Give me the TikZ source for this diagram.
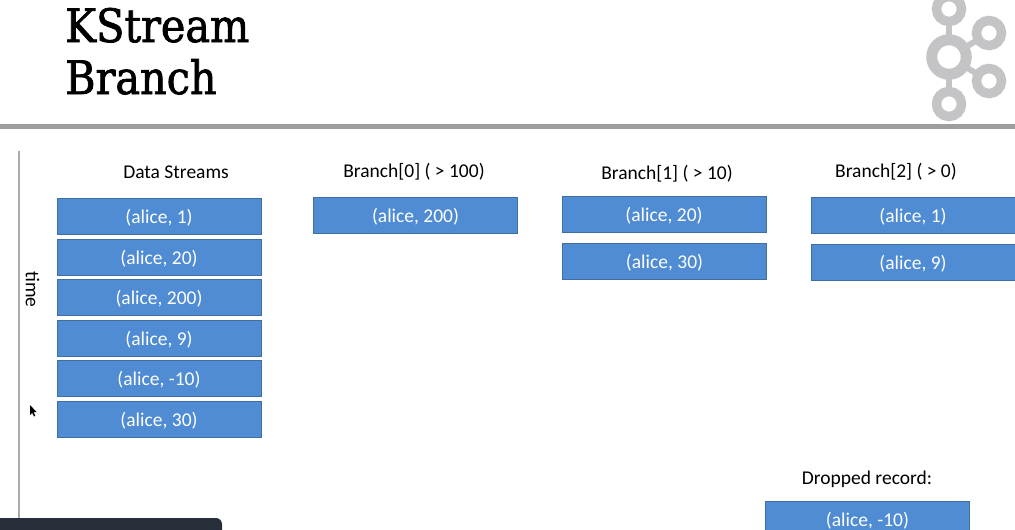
\documentclass[tikz,border=0pt]{standalone}
\usepackage{fontspec}
\setmainfont{Carlito}
\newfontfamily\titlefont[FakeBold=1.6,FakeStretch=0.9]{DejaVu Serif}
\definecolor{boxfill}{HTML}{4F8CD3}
\definecolor{boxline}{HTML}{3F6F9F}
\definecolor{rulegray}{HTML}{9E9E9E}
\definecolor{axisgray}{HTML}{ABABAB}
\definecolor{logogray}{HTML}{C4C4C6}
\definecolor{barcolor}{HTML}{272D39}
\tikzset{
  rec/.style={draw=boxline,line width=0.9pt,fill=boxfill,minimum width=204pt,minimum height=36.5pt,inner sep=0pt,text=white,text height=17pt,text depth=3.5pt,font=\fontsize{19.5}{21}\selectfont},
  head/.style={text=black,inner sep=0pt,font=\fontsize{19.5}{21}\selectfont},
  ttl/.style={text=black,inner sep=0pt,anchor=base west,font=\titlefont\fontsize{46}{50}\selectfont},
  hub/.style={circle,draw=logogray,line width=11pt,fill=white,minimum size=34.5pt,inner sep=0pt},
  sat/.style={circle,draw=logogray,line width=9.5pt,fill=white,minimum size=25pt,inner sep=0pt},
  spoke/.style={draw=logogray,line width=6pt}
}
\begin{document}
\begin{tikzpicture}[x=1pt,y=-1pt]
\useasboundingbox (0,0) rectangle (1015,530);
\begin{scope}
\clip (0,0) rectangle (1015,530);
% title
\node[ttl] (t1) at (65,42) {KStream};
\node[ttl] (t2) at (65,94) {Branch};
% logo
\coordinate (hubc) at (949,57);
\coordinate (sa) at (949,9);
\coordinate (sb) at (989,33);
\coordinate (sc) at (989,81);
\coordinate (sd) at (949,104);
\draw[spoke] (hubc) -- (sa);
\draw[spoke] (hubc) -- (sb);
\draw[spoke] (hubc) -- (sc);
\draw[spoke] (hubc) -- (sd);
\node[hub] (h) at (hubc) {};
\node[sat] (na) at (sa) {};
\node[sat] (nb) at (sb) {};
\node[sat] (nc) at (sc) {};
\node[sat] (nd) at (sd) {};
% rules
\coordinate (ruleL) at (0,126.5);
\coordinate (ruleR) at (1015,126.5);
\draw[rulegray,line width=5pt] (ruleL) -- (ruleR);
\coordinate (axT) at (19,151);
\coordinate (axB) at (19,530);
\draw[axisgray,line width=1.6pt] (axT) -- (axB);
\node[head,rotate=-90] (time) at (32.5,289.5) {time};
% headers
\node[head] (h0) at (176,172) {Data Streams};
\node[head] (h1) at (414,172) {Branch[0] ( > 100)};
\node[head] (h2) at (667,174) {Branch[1] ( > 10)};
\node[head] (h3) at (896,172) {Branch[2] ( > 0)};
\node[head] (h4) at (867,479) {Dropped record:};
% column 1
\node[rec] (a1) at (159,216.5) {(alice, 1)};
\node[rec] (a2) at (159,257.5) {(alice, 20)};
\node[rec] (a3) at (159,297.5) {(alice, 200)};
\node[rec] (a4) at (159,338.5) {(alice, 9)};
\node[rec] (a5) at (159,378.5) {(alice, -10)};
\node[rec] (a6) at (159,419.5) {(alice, 30)};
% branches
\node[rec] (b1) at (415.5,215.5) {(alice, 200)};
\node[rec] (c1) at (664,214.5) {(alice, 20)};
\node[rec] (c2) at (664.5,261.5) {(alice, 30)};
\node[rec] (d1) at (913,215.5) {(alice, 1)};
\node[rec] (d2) at (913,262.5) {(alice, 9)};
\node[rec] (e1) at (867.5,519.5) {(alice, -10)};
% cursor
\fill[black] (30,405) -- (30,415) -- (32.2,412.8) -- (34,416.5) -- (35.3,415.8) -- (33.6,412.3) -- (36.5,412) -- cycle;
% bottom bar
\fill[barcolor,rounded corners=6pt] (-10,518) rectangle (222,545);
\end{scope}
\end{tikzpicture}
\end{document}
